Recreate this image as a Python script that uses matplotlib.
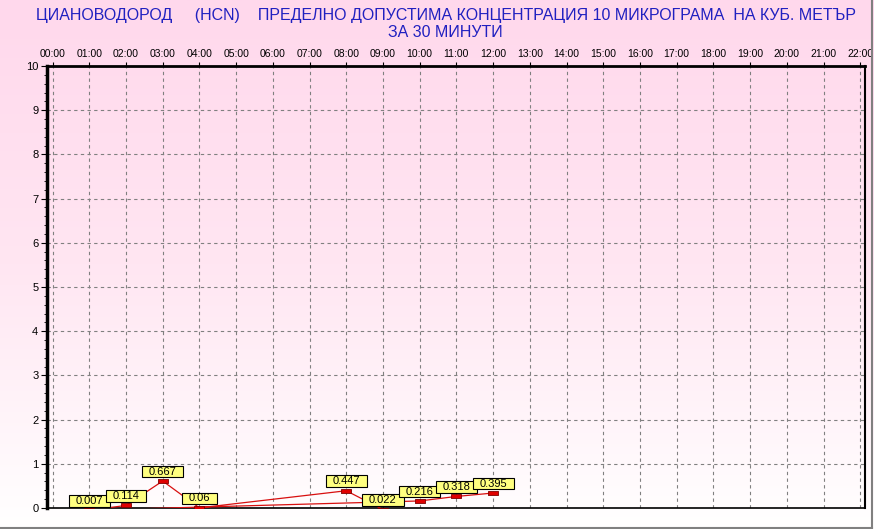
import numpy as np
import matplotlib
matplotlib.use("Agg")
import matplotlib.pyplot as plt
from matplotlib.path import Path
from matplotlib.lines import Line2D
from matplotlib.transforms import ScaledTranslation
from matplotlib.ticker import MultipleLocator
from matplotlib.colors import LinearSegmentedColormap

title_lines = ["ЦИАНОВОДОРОД     (HCN)    ПРЕДЕЛНО ДОПУСТИМА КОНЦЕНТРАЦИЯ 10 МИКРОГРАМА  НА КУБ. МЕТЪР",
               "ЗА 30 МИНУТИ"]
hour_ticks = list(range(0, 23))
hour_labels = ["%02d:00" % h for h in hour_ticks]
y_ticks = list(range(0, 11))

# series in the order the chart connects them
hours = [9, 8, 4, 3, 2, 1, 10, 11, 12]
values = [0.022, 0.447, 0.06, 0.667, 0.114, 0.007, 0.216, 0.318, 0.395]

plt.rcParams['font.family'] = ['Liberation Sans', 'DejaVu Sans']


def label_box(x0, y0, width, height, mutation_size):
    # wide horizontal, tight vertical padding like the old chart control
    px, py = 0.6 * mutation_size, 0.08 * mutation_size
    verts = [(x0 - px, y0 - py), (x0 + width + px, y0 - py),
             (x0 + width + px, y0 + height + py), (x0 - px, y0 + height + py),
             (x0 - px, y0 - py)]
    return Path(verts, closed=True)


fig = plt.figure(figsize=(8.74, 5.29), dpi=100)

# background gradient pink -> white
bg = fig.add_axes([0, 0, 1, 1], zorder=-10)
grad = np.linspace(0, 1, 256)[:, None]
cmap = LinearSegmentedColormap.from_list("bg", ["#FFD8EC", "#FFE6F2", "#FFFFFF"])
bg.imshow(grad, aspect="auto", cmap=cmap, extent=[0, 1, 0, 1], origin="upper")
bg.axis("off")

ax = fig.add_axes([0.0534, 0.0397, 0.9363, 0.8355])
ax.set_facecolor("none")
ax.set_xlim(-0.16, 22.13)
ax.set_ylim(0, 10)

# the series is drawn a couple of pixels low in the original
off = ax.transData + ScaledTranslation(0, -2.5 / 100, fig.dpi_scale_trans)
ax.plot(hours, values, color="#D81010", lw=0.9, transform=off, zorder=3)
rect = [(-1, -0.5), (1, -0.5), (1, 0.5), (-1, 0.5), (-1, -0.5)]
ax.plot(hours, values, ls="none", marker=rect, ms=6.5, mfc="#E00000",
        mec="#800000", mew=0.6, transform=off, zorder=4)

for h, v in sorted(zip(hours, values)):
    ax.annotate(str(v), xy=(h, v), xytext=(0, 1.4), textcoords="offset points",
                ha="center", va="bottom", fontsize=8, zorder=5,
                bbox=dict(boxstyle=label_box, fc="#FFFF80", ec="black", lw=0.8))

ax.xaxis.tick_top()
ax.set_xticks(hour_ticks)
ax.set_xticklabels(hour_labels, fontsize=7.5)
ax.set_yticks(y_ticks)
ax.set_yticklabels([str(t) for t in y_ticks], fontsize=8)
ax.yaxis.set_minor_locator(MultipleLocator(0.2))
ax.tick_params(axis="x", direction="out", length=3, width=0.8, pad=2)
ax.tick_params(axis="y", which="major", direction="out", length=4, width=0.8, pad=2)
ax.tick_params(axis="y", which="minor", direction="out", length=2, width=0.6)
ax.grid(True, which="major", color="#808080", ls=(0, (3, 3)), lw=0.8)

ax.spines["left"].set_linewidth(2.5)
ax.spines["top"].set_linewidth(2)
ax.spines["right"].set_linewidth(1.5)
ax.spines["bottom"].set_linewidth(1.2)
ax.spines["bottom"].set_linestyle((0, (3, 1)))

fig.text(0.51, 0.970, title_lines[0], ha="center", va="center", fontsize=11.5, color="#2020C0")
fig.text(0.51, 0.938, title_lines[1], ha="center", va="center", fontsize=11.5, color="#2020C0")

# grey frame on the right and bottom edge
fig.add_artist(Line2D([0, 0.998], [0.002, 0.002], transform=fig.transFigure, color="#808080", lw=1.5))
fig.add_artist(Line2D([0.998, 0.998], [0.002, 1], transform=fig.transFigure, color="#808080", lw=1.5))

fig.savefig("out.png", dpi=100)
